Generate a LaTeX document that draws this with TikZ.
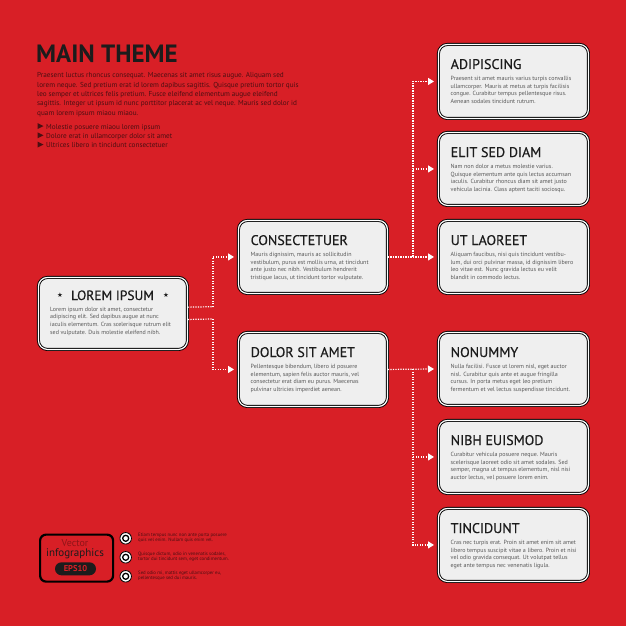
\documentclass[tikz,border=0pt]{standalone}
\usepackage{fontspec}
\setmainfont{PT Sans}
\newfontfamily\headfont[FakeBold=0.45]{PT Sans}
\newfontfamily\symfont{DejaVu Sans}
\usetikzlibrary{arrows.meta,calc}
\definecolor{bgred}{HTML}{D81F26}
\definecolor{boxfill}{HTML}{EFEFEF}
\definecolor{ink}{HTML}{1C1C1C}
\definecolor{para}{HTML}{585858}
\definecolor{dark}{HTML}{4B0F12}
\definecolor{vecred}{HTML}{8E1418}
\tikzset{
  card/.style={draw=black, double=white, double distance=1.2pt, line width=0.9pt,
    rounded corners=9pt, fill=boxfill, inner sep=0pt, anchor=north west},
  head/.style={inner sep=0pt, anchor=base west, text=ink, font=\headfont\fontsize{14}{14}\selectfont},
  body/.style={inner sep=0pt, anchor=north west, align=left, text=para,
    font=\fontsize{6}{7.6}\selectfont},
  flow/.style={draw=white, line width=1.2pt, dash pattern=on 1.2pt off 1.3pt},
  flowarrow/.style={flow, -{Triangle[width=7pt,length=6pt,fill=white]}, shorten >=4pt},
  intro/.style={inner sep=0pt, anchor=north west, align=left, text=dark,
    font=\fontsize{7.2}{9.3}\selectfont},
  tiny/.style={inner sep=0pt, anchor=north west, align=left, text=dark,
    font=\fontsize{4.8}{5}\selectfont},
  starmark/.style={text=ink, inner sep=0pt, font=\symfont\fontsize{6.5}{6.5}\selectfont},
}
\newcommand\infocard[7]{%
  \node[card, minimum width=#4pt, minimum height=#5pt] (#1) at (#2,#3) {};
  \node[head] (#1h) at ($(#2,#3)+(12.5,25)$) {#6};
  \node[body] (#1t) at ($(#2,#3)+(12.5,32.3)$) {#7};
}
\begin{document}
\begin{tikzpicture}[x=1pt,y=-1pt]
\fill[bgred] (0,0) rectangle (626,626);
\useasboundingbox (0,0) rectangle (626,626);

% title and intro
\node[inner sep=0pt, anchor=base west, text=ink, font=\fontsize{25}{25}\selectfont\bfseries] (title) at (36,63) {MAIN THEME};
\node[intro] (introtext) at (37,72.5) {Praesent luctus rhoncus consequat. Maecenas sit amet risus augue. Aliquam sed\\
lorem neque. Sed pretium erat id lorem dapibus sagittis. Quisque pretium tortor quis\\
leo semper et ultrices felis pretium. Fusce eleifend elementum augue eleifend\\
sagittis. Integer ut ipsum id nunc porttitor placerat ac vel neque. Mauris sed dolor id\\
quam lorem ipsum miaou miaou.};
\foreach \yy in {129,138.3,147.6} {\fill[dark] (37.5,\yy-6) -- (43.5,\yy-3) -- (37.5,\yy) -- cycle;}
\node[intro, anchor=base west] (b1) at (46,129) {Molestie posuere miaou lorem ipsum};
\node[intro, anchor=base west] (b2) at (46,138.3) {Dolore erat in ullamcorper dolor sit amet};
\node[intro, anchor=base west] (b3) at (46,147.6) {Ultrices libero in tincidunt consectetuer};

% left card
\node[card, minimum width=149pt, minimum height=72pt] (lorem) at (38,277) {};
\node[head, anchor=base, font=\headfont\fontsize{13.5}{13.5}\selectfont] (loremh) at (112.5,300) {LOREM IPSUM};
\node[starmark] (starl) at (60,295.5) {★};
\node[starmark] (starr) at (166,295.5) {★};
\node[body] (loremt) at (50,306.8) {Lorem ipsum dolor sit amet, consectetur\\
adipiscing elit. Sed dapibus augue at nunc\\
iaculis elementum. Cras scelerisque rutrum elit\\
sed vulputate. Duis molestie eleifend nibh.};

\infocard{cons}{238}{220}{149}{73}{CONSECTETUER}{Mauris dignissim, mauris ac sollicitudin\\
vestibulum, purus est mollis urna, at tincidunt\\
ante justo nec nibh. Vestibulum hendrerit\\
tristique lacus, ut tincidunt tortor vulputate.}
\infocard{dolor}{238}{332}{149}{74}{DOLOR SIT AMET}{Pellentesque bibendum, libero id posuere\\
elementum, sapien felis auctor mauris, vel\\
consectetur erat diam eu purus. Maecenas\\
pulvinar ultricies imperdiet aenean.}
\infocard{adip}{438}{44}{150}{74}{ADIPISCING}{Praesent sit amet mauris varius turpis convallis\\
ullamcorper. Mauris at metus at turpis facilisis\\
congue. Curabitur tempus pellentesque risus.\\
Aenean sodales tincidunt rutrum.}
\infocard{elit}{438}{132}{150}{73}{ELIT SED DIAM}{Nam non dolor a metus molestie varius.\\
Quisque elementum ante quis lectus accumsan\\
iaculis. Curabitur rhoncus diam sit amet justo\\
vehicula lacinia. Class aptent taciti sociosqu.}
\infocard{ut}{438}{220}{150}{73}{UT LAOREET}{Aliquam faucibus, nisi quis tincidunt vestibu-\\
lum, dui orci pulvinar massa, id dignissim libero\\
leo vitae est. Nunc gravida lectus eu velit\\
blandit in commodo lectus.}
\infocard{non}{438}{332}{150}{73}{NONUMMY}{Nulla facilisi. Fusce ut lorem nisl, eget auctor\\
nisl. Curabitur quis ante et augue fringilla\\
cursus. In porta metus eget leo pretium\\
fermentum et vel lectus suspendisse tincidunt.}
\infocard{nibh}{438}{420}{150}{73}{NIBH EUISMOD}{Curabitur vehicula posuere neque. Mauris\\
scelerisque laoreet odio sit amet sodales. Sed\\
semper, magna ut tempus elementum, nisl nisi\\
auctor lectus, vel posuere lorem enim.}
\infocard{tinc}{438}{508}{150}{73}{TINCIDUNT}{Cras nec turpis erat. Proin sit amet enim sit amet\\
libero tempus suscipit vitae a libero. Proin et nisi\\
vel odio gravida consequat. Ut volutpat tellus\\
eget ante tempus nec venenatis ligula.}

% connectors
\coordinate (ja) at (213,306.7);
\coordinate (jb) at (213,319);
\draw[flow] ($(lorem.east)+(0,-6.3)$) -- (ja);
\draw[flowarrow] (ja) |- (cons.west);
\draw[flow] ($(lorem.east)+(0,6)$) -- (jb);
\draw[flowarrow] (jb) |- (dolor.west);

\coordinate (j1) at (413,256.5);
\draw[flowarrow] (cons.east) -- (ut.west);
\draw[flowarrow] (j1) |- (adip.west);
\draw[flowarrow] (j1 |- elit.west) -- (elit.west);

\coordinate (j2) at (413,369);
\draw[flowarrow] (dolor.east) -- (non.west);
\draw[flowarrow] (j2) |- (tinc.west);
\draw[flowarrow] (j2 |- nibh.west) -- (nibh.west);

% logo
\node[draw=black, line width=2.2pt, rounded corners=6pt, minimum width=73pt, minimum height=47pt, inner sep=0pt, anchor=north west] (logo) at (39,533.5) {};
\node[inner sep=0pt, anchor=base, text=vecred, font=\fontsize{10}{10}\selectfont] (vec) at (75,546.5) {Vector};
\node[inner sep=0pt, anchor=base, text=ink, font=\fontsize{11}{11}\selectfont] (infog) at (75,556.5) {infographics};
\node[fill=ink, rounded corners=6.5pt, minimum width=41pt, minimum height=13pt, inner sep=0pt, text=bgred, font=\fontsize{8.5}{8.5}\selectfont\bfseries] (eps) at (75.5,568.8) {EPS10};

% bullets with circles
\foreach \cy/\nm in {538.3/c1,557.3/c2,576.3/c3} {
  \node[circle, draw=black, fill=white, line width=0.8pt, minimum size=11.5pt, inner sep=0pt] (\nm) at (125.7,\cy) {};
  \node[circle, draw=black, fill=white, line width=1.3pt, minimum size=6pt, inner sep=0pt] (\nm i) at (125.7,\cy) {};
}
\node[tiny] (t1) at (138,533.3) {Etiam tempus nunc non ante porta posuere\\quis vel enim. Nullam quis enim vel.};
\node[tiny] (t2) at (138,552.3) {Quisque dictum, odio in venenatis sodales,\\tortor dui tincidunt sem, eget condimentum.};
\node[tiny] (t3) at (138,571.3) {Sed odio mi, mattis eget ullamcorper eu,\\pellentesque sed dui mauris.};
\end{tikzpicture}
\end{document}
